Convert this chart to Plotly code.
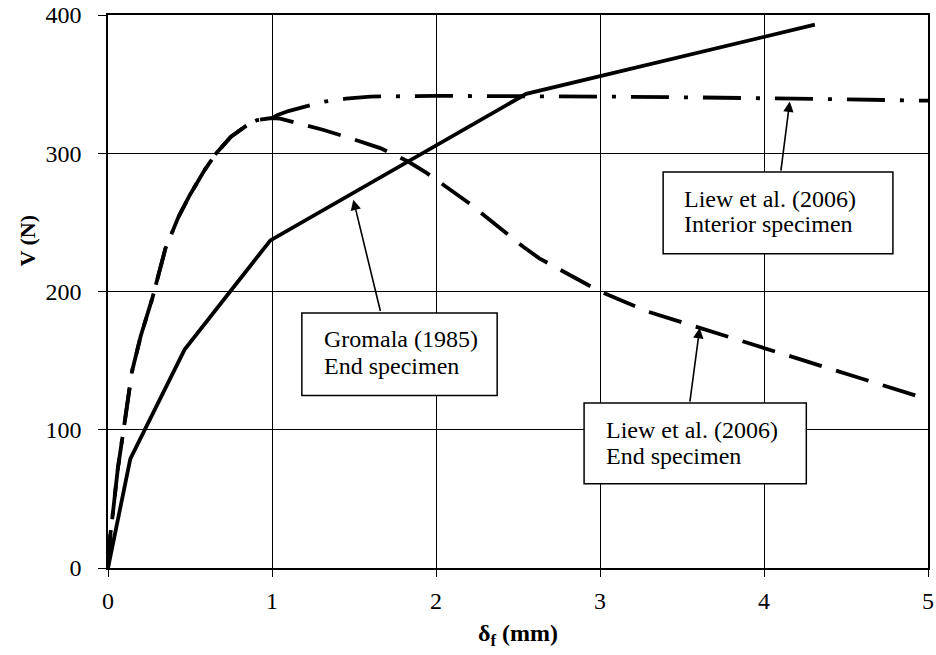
import plotly.graph_objects as go

# Gromala (1985) end specimen (solid)
gromala_x = [0, 0.136, 0.467, 0.99, 2.55, 4.31]
gromala_y = [0, 79, 158, 237, 343, 393]

# Shared rising branch of Liew et al. (2006) curves
rise_x = [0, 0.015, 0.03, 0.06, 0.095, 0.146, 0.2, 0.27, 0.35, 0.43, 0.5, 0.59, 0.66, 0.75, 0.85, 0.91, 1.0]
rise_y = [0, 25, 40, 72, 100, 142, 168, 195, 231, 254, 270, 288, 300, 312, 320.5, 324, 325.5]

# Liew et al. (2006) interior specimen (dash-dot)
interior_x = rise_x + [1.03, 1.1, 1.21, 1.32, 1.45, 1.6, 2.0, 2.5, 3.0, 3.5, 4.0, 4.5, 5.0]
interior_y = rise_y + [327.5, 330.5, 334, 337.4, 339.5, 341, 341.5, 341.5, 341, 340.5, 340, 339, 338]

# Liew et al. (2006) end specimen (dashed)
end_x = rise_x + [1.05, 1.15, 1.31, 1.5, 1.66, 1.83, 1.94, 2.2, 2.45, 2.53, 2.63, 3.0, 3.29, 3.61, 3.91, 4.0, 4.52, 5.0]
end_y = rise_y + [325, 322, 317, 310, 303.7, 294, 286, 264, 240, 232.5, 224, 200, 185.5, 173.5, 162.2, 158.6, 139.8, 122]

x_ticks = [0, 1, 2, 3, 4, 5]
y_ticks = [0, 100, 200, 300, 400]

label_lines = [
    ["Gromala (1985)", "End specimen"],
    ["Liew et al. (2006)", "Interior specimen"],
    ["Liew et al. (2006)", "End specimen"],
]

FONT = "Liberation Serif, Times New Roman, serif"

fig = go.Figure()
fig.add_trace(go.Scatter(x=end_x, y=end_y, mode="lines",
                         line=dict(color="black", width=3.8, dash="34px,15px"),
                         showlegend=False))
fig.add_trace(go.Scatter(x=interior_x, y=interior_y, mode="lines",
                         line=dict(color="black", width=3.8, dash="38px,15px,4px,15px"),
                         showlegend=False))
fig.add_trace(go.Scatter(x=gromala_x, y=gromala_y, mode="lines",
                         line=dict(color="black", width=3.8),
                         showlegend=False))

# label boxes (x0, x1, y0, y1) and text anchor (left x, line1 y, line2 y)
boxes = [
    (1.182, 2.373, 124.8, 184.4),
    (3.385, 4.786, 227.3, 286.4),
    (2.903, 4.258, 61.0, 119.3),
]
text_pos = [
    (1.304, 165.6, 145.8),
    (3.503, 267.1, 248.8),
    (3.025, 100.0, 80.7),
]
shapes = []
for x0, x1, y0, y1 in boxes:
    shapes.append(dict(type="rect", xref="x", yref="y", x0=x0, x1=x1, y0=y0, y1=y1,
                       line=dict(color="black", width=1.5), fillcolor="white", layer="above"))

annotations = []
for (tx, ty1, ty2), lines in zip(text_pos, label_lines):
    for ty, t in zip((ty1, ty2), lines):
        annotations.append(dict(x=tx, y=ty, xref="x", yref="y", text=t, showarrow=False,
                                xanchor="left", yanchor="middle", align="left",
                                font=dict(family=FONT, size=24, color="black")))

arrows = [
    (1.496, 266.4, 1.663, 184.8),
    (4.157, 337.4, 4.102, 286.4),
    (3.608, 173.6, 3.547, 119.3),
]
for x, y, ax, ay in arrows:
    annotations.append(dict(x=x, y=y, ax=ax, ay=ay, xref="x", yref="y", axref="x", ayref="y",
                            text="", showarrow=True, arrowhead=2, arrowsize=1.3, arrowwidth=1.6,
                            arrowcolor="black", standoff=0, startstandoff=0))

annotations.append(dict(x=-0.0983, y=0.593, xref="paper", yref="paper",
                        text="<b>V (N)</b>", textangle=-90, showarrow=False,
                        xanchor="center", yanchor="middle",
                        font=dict(family=FONT, size=22, color="black")))
annotations.append(dict(x=0.5, y=-0.1205, xref="paper", yref="paper",
                        text="<b>δ<sub>f</sub> (mm)</b>", showarrow=False,
                        xanchor="center", yanchor="middle",
                        font=dict(family=FONT, size=24, color="black")))

fig.update_layout(
    width=936, height=655,
    margin=dict(l=107.7, r=7.5, t=15, b=86.7, autoexpand=False),
    paper_bgcolor="white", plot_bgcolor="white",
    shapes=shapes, annotations=annotations,
    font=dict(family=FONT, size=24, color="black"),
)
fig.update_xaxes(range=[0, 5], tickvals=x_ticks, ticktext=[str(v) for v in x_ticks],
                 showgrid=True, gridcolor="black", gridwidth=1.3,
                 showline=True, linecolor="black", linewidth=1.5, mirror=True,
                 ticks="outside", ticklen=7, tickcolor="black", tickwidth=1.3,
                 zeroline=False, ticklabelstandoff=3, automargin=False,
                 ticklabeloverflow="allow",
                 tickfont=dict(family=FONT, size=24, color="black"))
fig.update_yaxes(range=[0, 400], tickvals=y_ticks, ticktext=[str(v) for v in y_ticks],
                 showgrid=True, gridcolor="black", gridwidth=1.3,
                 showline=True, linecolor="black", linewidth=1.5, mirror=True,
                 ticks="outside", ticklen=8, tickcolor="black", tickwidth=1.3,
                 zeroline=False, ticklabelstandoff=12, automargin=False,
                 ticklabeloverflow="allow",
                 tickfont=dict(family=FONT, size=24, color="black"))

fig.write_html("out.html", config={"displayModeBar": False},
               post_script="document.body.style.margin='0';document.body.style.overflow='hidden';")
